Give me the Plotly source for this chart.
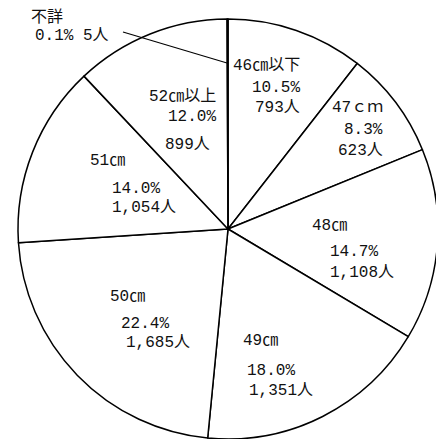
import plotly.graph_objects as go

# ---- data ----
categories = ["46㎝以下", "47ｃｍ", "48㎝", "49㎝", "50㎝", "51㎝", "52㎝以上", "不詳"]
counts = [793, 623, 1108, 1351, 1685, 1054, 899, 5]

total = sum(counts)
pct_text = [f"{v / total * 100:.1f}%" for v in counts]
cnt_text = [f"{v:,}人" for v in counts]

# ---- layout geometry (page pixels; the page body has an 8px margin) ----
OFF = 8
W, H = 444 - OFF, 439 - OFF
ML, MR, MT, MB = 18 - OFF, 6, 19 - OFF, 0
PW, PH = W - ML - MR, H - MT - MB

FONT = dict(family="Liberation Mono, 'Noto Sans CJK JP', monospace", size=16, color="#111111")

# label line placements: (slice index, which line, x px, y px, anchor)
# which: 0 = category, 1 = percent, 2 = count, 3 = percent + count
label_layout = [
    (7, 0, 29, 17, "left"), (7, 3, 33, 36, "left"),
    (0, 0, 302, 66, "right"), (0, 1, 302, 88, "right"), (0, 2, 302, 108, "right"),
    (1, 0, 385, 108, "right"), (1, 1, 385, 130, "right"), (1, 2, 385, 151, "right"),
    (2, 0, 310, 226, "left"), (2, 1, 328, 252, "left"), (2, 2, 328, 273, "left"),
    (3, 0, 241, 341, "left"), (3, 1, 245, 371, "left"), (3, 2, 247, 391, "left"),
    (4, 0, 108, 297, "left"), (4, 1, 119, 324, "left"), (4, 2, 124, 343, "left"),
    (5, 0, 88, 161, "left"), (5, 1, 110, 189, "left"), (5, 2, 110, 208, "left"),
    (6, 0, 147, 96, "left"), (6, 1, 166, 117, "left"), (6, 2, 163, 145, "left"),
]


def px2paper(x, y):
    x -= OFF
    y -= OFF
    return (x - ML) / PW, 1 - (y - MT) / PH


fig = go.Figure(
    go.Pie(
        labels=categories,
        values=counts,
        sort=False,
        direction="clockwise",
        rotation=0,
        textinfo="none",
        hoverinfo="label+value+percent",
        marker=dict(colors=["#ffffff"] * len(counts), line=dict(color="#000000", width=1.5)),
        showlegend=False,
    )
)

annotations = []
for idx, which, x, y, anchor in label_layout:
    if which == 0:
        txt = categories[idx]
    elif which == 1:
        txt = pct_text[idx]
    elif which == 2:
        txt = cnt_text[idx]
    else:
        txt = f"{pct_text[idx]} {cnt_text[idx]}"
    ax, ay = px2paper(x, y)
    annotations.append(dict(
        text=txt, x=ax, y=ay, xref="paper", yref="paper",
        xanchor=anchor, yanchor="middle", showarrow=False, font=FONT,
    ))

x0, y0 = px2paper(123, 32)
x1, y1 = px2paper(227, 63)

fig.update_layout(
    width=W, height=H,
    margin=dict(l=ML, r=MR, t=MT, b=MB),
    paper_bgcolor="#ffffff", plot_bgcolor="#ffffff",
    annotations=annotations,
    shapes=[dict(type="line", xref="paper", yref="paper", x0=x0, y0=y0, x1=x1, y1=y1,
                 line=dict(color="#000000", width=1.2))],
)

fig.write_html("out.html")
